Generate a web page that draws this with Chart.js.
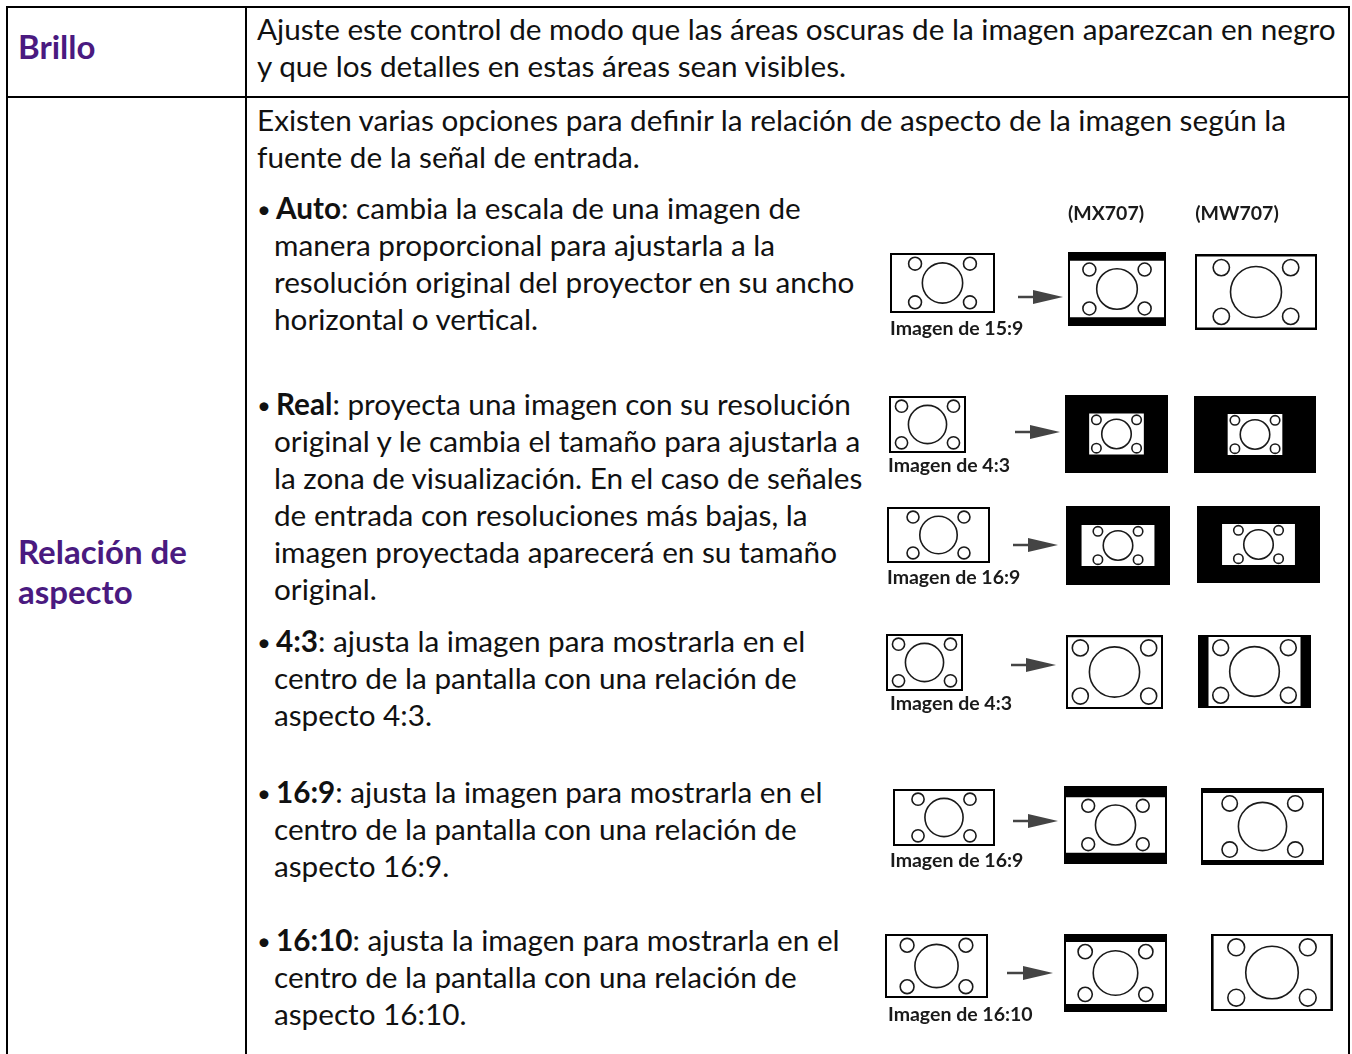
<!DOCTYPE html>
<html>
<head>
<meta charset="utf-8">
<script src="https://cdn.jsdelivr.net/npm/chart.js@4.4.1/dist/chart.umd.min.js"></script>
<style>
  html,body{margin:0;padding:0;background:#fff;width:1352px;height:1054px;overflow:hidden;}
  body{position:relative;font-family:Lato,"Open Sans",sans-serif;color:#111;}
  .ln{position:absolute;white-space:nowrap;font-size:29.7px;line-height:29.7px;}
  .bu{position:absolute;white-space:nowrap;font-size:24px;line-height:24px;}
  .hd{position:absolute;white-space:nowrap;font-size:33px;line-height:33px;font-weight:700;color:#4a1a80;}
  .lb{position:absolute;white-space:nowrap;font-size:19.5px;line-height:19.5px;font-weight:700;color:#1a1a1a;}
  .rule{position:absolute;background:#000;}
  #c{position:absolute;left:0;top:0;}
</style>
</head>
<body>
<!-- table rules -->
<div class="rule" style="left:6px;top:6px;width:1344px;height:2px"></div>
<div class="rule" style="left:6px;top:96px;width:1344px;height:2px"></div>
<div class="rule" style="left:6px;top:6px;width:2px;height:1048px"></div>
<div class="rule" style="left:245px;top:6px;width:2px;height:1048px"></div>
<div class="rule" style="left:1348px;top:6px;width:2px;height:1048px"></div>

<!-- left column headers -->
<div class="hd" style="left:18px;top:30px">Brillo</div>
<div class="hd" style="left:18px;top:535px">Relación de</div>
<div class="hd" style="left:18px;top:575px">aspecto</div>

<!-- right column text -->
<div class="ln" style="left:257px;top:14px">Ajuste este control de modo que las áreas oscuras de la imagen aparezcan en negro</div>
<div class="ln" style="left:257px;top:51px">y que los detalles en estas áreas sean visibles.</div>
<div class="ln" style="left:257px;top:105px">Existen varias opciones para definir la relación de aspecto de la imagen según la</div>
<div class="ln" style="left:257px;top:142px">fuente de la señal de entrada.</div>

<div class="bu" style="left:257px;top:197px">•</div>
<div class="ln" style="left:276px;top:193px"><b>Auto</b>: cambia la escala de una imagen de</div>
<div class="ln" style="left:274px;top:230px">manera proporcional para ajustarla a la</div>
<div class="ln" style="left:274px;top:267px">resolución original del proyector en su ancho</div>
<div class="ln" style="left:274px;top:304px">horizontal o vertical.</div>

<div class="bu" style="left:257px;top:393px">•</div>
<div class="ln" style="left:276px;top:389px"><b>Real</b>: proyecta una imagen con su resolución</div>
<div class="ln" style="left:274px;top:426px">original y le cambia el tamaño para ajustarla a</div>
<div class="ln" style="left:274px;top:463px">la zona de visualización. En el caso de señales</div>
<div class="ln" style="left:274px;top:500px">de entrada con resoluciones más bajas, la</div>
<div class="ln" style="left:274px;top:537px">imagen proyectada aparecerá en su tamaño</div>
<div class="ln" style="left:274px;top:574px">original.</div>

<div class="bu" style="left:257px;top:630px">•</div>
<div class="ln" style="left:276px;top:626px"><b>4:3</b>: ajusta la imagen para mostrarla en el</div>
<div class="ln" style="left:274px;top:663px">centro de la pantalla con una relación de</div>
<div class="ln" style="left:274px;top:700px">aspecto 4:3.</div>

<div class="bu" style="left:257px;top:781px">•</div>
<div class="ln" style="left:276px;top:777px"><b>16:9</b>: ajusta la imagen para mostrarla en el</div>
<div class="ln" style="left:274px;top:814px">centro de la pantalla con una relación de</div>
<div class="ln" style="left:274px;top:851px">aspecto 16:9.</div>

<div class="bu" style="left:257px;top:929px">•</div>
<div class="ln" style="left:276px;top:925px"><b>16:10</b>: ajusta la imagen para mostrarla en el</div>
<div class="ln" style="left:274px;top:962px">centro de la pantalla con una relación de</div>
<div class="ln" style="left:274px;top:999px">aspecto 16:10.</div>

<canvas id="c" width="1352" height="1054"></canvas>
<div id="labels"></div>

<script>
// ---------------- data ----------------
const modes = ['Auto', 'Real', 'Real', '4:3', '16:9', '16:10'];
const sourceRatios = ['15:9', '4:3', '16:9', '4:3', '16:9', '16:10'];
const sourceLabels = ['Imagen de 15:9', 'Imagen de 4:3', 'Imagen de 16:9', 'Imagen de 4:3', 'Imagen de 16:9', 'Imagen de 16:10'];
const panelModels = ['(MX707)', '(MW707)'];

// ---------------- layout (pixel boxes of the illustrations) ----------------
const srcBoxes = [[890,253,995,313],[889,396,966,453],[887,507,990,563],[886,634,963,691],[893,789,995,846],[885,934,988,998]];
const mxBoxes  = [[1068,252,1166,326],[1065,395,1168,473],[1066,506,1170,585],[1066,635,1163,709],[1064,786,1167,864],[1064,934,1167,1012]];
const mwBoxes  = [[1195,254,1317,330],[1194,396,1316,473],[1197,506,1320,583],[1198,635,1311,708],[1201,788,1324,865],[1211,934,1333,1011]];
const arrowPos = [[1018,1063,297],[1015,1060,432],[1013,1058,545],[1011,1056,665],[1013,1058,821],[1007,1053,973]];
const labelPos = [[890,318],[888,455],[887,567],[890,693],[890,850],[888,1004]];
const modelLabelX = [1106, 1237];
const modelLabelTop = 203;
const frame = 2, nativeH = 41, headLen = 30, headHalf = 7;

function ratioOf(s){ const p = s.split(':'); return (+p[0]) / (+p[1]); }
function inset(b, d){ return [b[0]+d, b[1]+d, b[2]-d, b[3]-d]; }
function fit(b, r){
  const a = inset(b, frame), aw = a[2]-a[0], ah = a[3]-a[1];
  let w = aw, h = aw / r; if (h > ah) { h = ah; w = ah * r; }
  const cx = (a[0]+a[2])/2, cy = (a[1]+a[3])/2;
  return [cx-w/2, cy-h/2, cx+w/2, cy+h/2];
}
function native(b, r){
  const cx = (b[0]+b[2])/2, cy = (b[1]+b[3])/2, h = nativeH, w = h * r;
  return [cx-w/2, cy-h/2, cx+w/2, cy+h/2];
}
function rectPts(b){ return [{x:b[0],y:b[1]},{x:b[2],y:b[1]},{x:b[2],y:b[3]},{x:b[0],y:b[3]},{x:b[0],y:b[1]}]; }

const datasets = [];
const circlePts = [], circleR = [];
function addShape(pts, color, order){
  datasets.push({data: pts, showLine: true, fill: 'shape', backgroundColor: color,
    borderColor: 'rgba(0,0,0,0)', borderWidth: 1, pointRadius: 0, pointHoverRadius: 0, tension: 0, order: order});
}
function addScreen(outer, img){
  addShape(rectPts(outer), '#000', 3);
  addShape(rectPts(img), '#fff', 2);
  const cx = (img[0]+img[2])/2, cy = (img[1]+img[3])/2, h = img[3]-img[1];
  circlePts.push({x:cx, y:cy}); circleR.push(0.36*h);
  [[-1,-1],[1,-1],[-1,1],[1,1]].forEach(([sx,sy]) => {
    circlePts.push({x: cx + sx*0.49*h, y: cy + sy*0.345*h}); circleR.push(0.115*h);
  });
}

modes.forEach((mode, i) => {
  const sr = ratioOf(sourceRatios[i]);
  addScreen(srcBoxes[i], inset(srcBoxes[i], frame));
  [mxBoxes[i], mwBoxes[i]].forEach(box => {
    let img;
    if (mode === 'Real') img = native(box, sr);
    else if (mode === 'Auto') img = fit(box, sr);
    else img = fit(box, ratioOf(mode));
    addScreen(box, img);
  });
  const [x0, x1, y] = arrowPos[i];
  datasets.push({data: [{x:x0,y:y},{x:x1-headLen+2,y:y}], showLine: true, fill: false, borderColor: '#444',
    borderWidth: 2.5, pointRadius: 0, pointHoverRadius: 0, order: 1});
  addShape([{x:x1-headLen,y:y-headHalf},{x:x1,y:y},{x:x1-headLen,y:y+headHalf},{x:x1-headLen,y:y-headHalf}], '#444', 1);
});

datasets.push({data: circlePts, showLine: false, pointRadius: circleR, pointHoverRadius: circleR,
  pointBackgroundColor: 'rgba(255,255,255,0)', pointBorderColor: '#1a1a1a', pointBorderWidth: 1.6, order: 0});

new Chart(document.getElementById('c'), {
  type: 'scatter',
  data: { datasets: datasets },
  options: {
    responsive: false, animation: false, events: [],
    layout: { padding: 0, autoPadding: false },
    plugins: { legend: { display: false }, tooltip: { enabled: false } },
    scales: {
      x: { type: 'linear', min: 0, max: 1352, display: false },
      y: { type: 'linear', min: 0, max: 1054, reverse: true, display: false }
    }
  }
});

// text labels of the illustrations
const lab = document.getElementById('labels');
sourceLabels.forEach((t, i) => {
  const d = document.createElement('div'); d.className = 'lb'; d.textContent = t;
  d.style.left = labelPos[i][0] + 'px'; d.style.top = labelPos[i][1] + 'px'; lab.appendChild(d);
});
panelModels.forEach((t, i) => {
  const d = document.createElement('div'); d.className = 'lb'; d.textContent = t;
  d.style.left = modelLabelX[i] + 'px'; d.style.top = modelLabelTop + 'px';
  d.style.transform = 'translateX(-50%)'; lab.appendChild(d);
});
</script>
</body>
</html>
